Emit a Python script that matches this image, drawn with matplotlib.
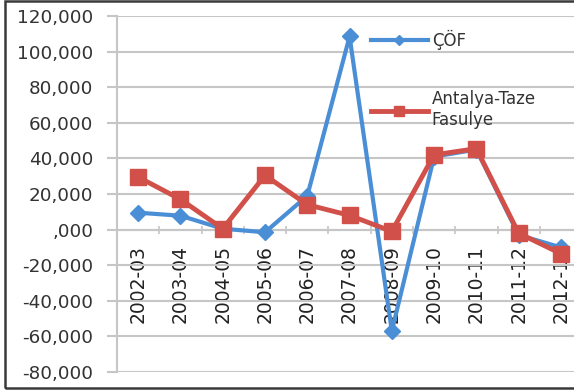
import numpy as np
import matplotlib.pyplot as plt
from matplotlib.patches import Rectangle

# data
seasons = ['2002-03', '2003-04', '2004-05', '2005-06', '2006-07', '2007-08',
           '2008-09', '2009-10', '2010-11', '2011-12', '2012-13']
cof = [9500, 7800, 500, -1500, 19000, 108500, -57000, 41000, 45000, -3000, -10000]
antalya = [29500, 17000, 500, 30500, 14000, 8000, -1000, 42000, 45500, -2000, -13500]
y_ticks = [120000, 100000, 80000, 60000, 40000, 20000, 0,
           -20000, -40000, -60000, -80000]
y_labels = ['120,000', '100,000', '80,000', '60,000', '40,000', '20,000', ',000',
            '-20,000', '-40,000', '-60,000', '-80,000']

blue = '#4a8fd6'
red = '#d2504a'
grid = '#c6c6c6'

fig = plt.figure(figsize=(5.74, 3.91), dpi=100)
ax = fig.add_axes([0.204, 0.0486, 0.810, 0.9104])

x = np.arange(len(seasons))
ax.plot(x, cof, color=blue, lw=3, marker='D', ms=8, label='ÇÖF', zorder=3)
ax.plot(x, antalya, color=red, lw=3.5, marker='s', ms=11,
        label='Antalya-Taze\nFasulye', zorder=4)

ax.set_xlim(-0.5, len(seasons) - 0.5)
ax.set_ylim(-80000, 120000)

# y axis
ax.set_yticks(y_ticks)
ax.set_yticklabels(y_labels, fontsize=13.2, color='#333333')
ax.yaxis.grid(True, color=grid, lw=1.5)
ax.tick_params(axis='y', length=7, color=grid, width=1.5, pad=10)

# category axis sits on zero
ax.spines['bottom'].set_position(('data', 0))
ax.set_xticks(x)
ax.set_xticklabels(seasons, rotation=90, fontsize=13.5, color='#222222', va='top')
ax.set_xticks(np.arange(len(seasons) + 1) - 0.5, minor=True)
ax.tick_params(axis='x', which='major', length=0, pad=11)
ax.tick_params(axis='x', which='minor', length=6, direction='inout', color=grid, width=1.2)

for s in ['top', 'right']:
    ax.spines[s].set_visible(False)
for s in ['left', 'bottom']:
    ax.spines[s].set_color(grid)
    ax.spines[s].set_linewidth(1.5)
ax.set_axisbelow(True)

leg = ax.legend(loc='upper left', bbox_to_anchor=(371 / 574, 1 - 30 / 391),
                bbox_transform=fig.transFigure, frameon=False, fontsize=12,
                handlelength=3.4, handletextpad=0.25, labelspacing=2.4,
                markerscale=0.6, borderpad=0, borderaxespad=0)
for t in leg.get_texts():
    t.set_color('#333333')

# outer frame of the picture
fig.patches.append(Rectangle((5 / 574, 3 / 391), 1.2, 1 - 4 / 391,
                             transform=fig.transFigure, fill=False,
                             edgecolor='#3a3a3a', lw=1.8, zorder=10))

fig.savefig('out.png', dpi=100)
